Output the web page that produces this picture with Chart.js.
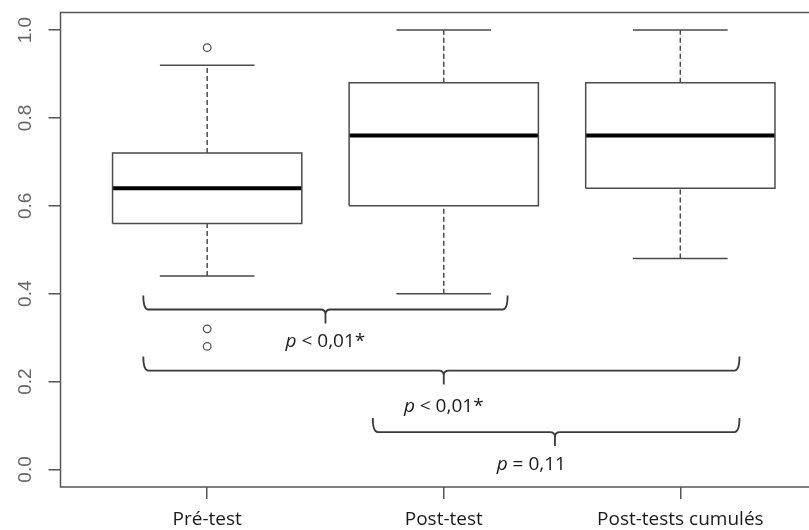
<!DOCTYPE html>
<html>
<head>
<meta charset="utf-8">
<script src="https://cdn.jsdelivr.net/npm/chart.js@4/dist/chart.umd.min.js"></script>
<style>
  html, body { margin: 0; padding: 0; background: #fff; overflow: hidden; width: 809px; height: 530px; }
  canvas { position: absolute; left: 0; top: 0; }
</style>
</head>
<body>
<canvas id="box" width="840" height="530"></canvas>
<script>
// ---------- data ----------
const groups = ["Pré-test", "Post-test", "Post-tests cumulés"];
const whiskerLow = [0.44, 0.40, 0.48];
const q1 = [0.56, 0.60, 0.64];
const median = [0.64, 0.76, 0.76];
const q3 = [0.72, 0.88, 0.88];
const whiskerHigh = [0.92, 1.00, 1.00];
const outliers = [[0.96, 0.32, 0.28], [], []];
const yTicks = [0, 0.2, 0.4, 0.6, 0.8, 1.0];

// comparison braces (x in group units, y in score units)
const braceFrom = [0.73, 0.73, 1.70];
const braceTo = [2.27, 3.25, 3.25];
const braceMid = [1.5, 2.0, 2.47];
const braceLevel = [0.364, 0.225, 0.085];
const braceText = ["< 0,01*", "< 0,01*", "= 0,11"];
const braceTextX = [1.5, 2.0, 2.37];
const braceTextY = [0.29, 0.144, 0.011];

// ---------- build line segments from the arrays ----------
const BOX_HALF = 0.4, CAP_HALF = 0.2;
const boxPts = [], medPts = [], whiskPts = [], capPts = [], outPts = [];
groups.forEach((g, i) => {
  const x = i + 1;
  boxPts.push({x: x - BOX_HALF, y: q1[i]}, {x: x + BOX_HALF, y: q1[i]},
              {x: x + BOX_HALF, y: q3[i]}, {x: x - BOX_HALF, y: q3[i]},
              {x: x - BOX_HALF, y: q1[i]}, {x: x, y: null});
  medPts.push({x: x - BOX_HALF, y: median[i]}, {x: x + BOX_HALF, y: median[i]}, {x: x, y: null});
  whiskPts.push({x: x, y: q3[i]}, {x: x, y: whiskerHigh[i]}, {x: x, y: null},
                {x: x, y: whiskerLow[i]}, {x: x, y: q1[i]}, {x: x, y: null});
  capPts.push({x: x - CAP_HALF, y: whiskerHigh[i]}, {x: x + CAP_HALF, y: whiskerHigh[i]}, {x: x, y: null},
              {x: x - CAP_HALF, y: whiskerLow[i]}, {x: x + CAP_HALF, y: whiskerLow[i]}, {x: x, y: null});
  outliers[i].forEach(v => outPts.push({x: x, y: v}));
});

const lineSet = (data, color, width, dash) => ({
  data, showLine: true, borderColor: color, borderWidth: width,
  borderDash: dash || [], pointRadius: 0, tension: 0, borderCapStyle: "butt", spanGaps: false
});

// frame + braces + p-values
const extras = {
  id: "extras",
  afterDatasetsDraw(chart) {
    const {ctx, chartArea: a, scales: {x, y}} = chart;
    ctx.save();
    ctx.strokeStyle = "#555";
    ctx.lineWidth = 1.5;
    ctx.strokeRect(a.left, a.top, a.right - a.left, a.bottom - a.top);

    ctx.strokeStyle = "#3a3a3a";
    ctx.lineWidth = 1.8;
    for (let i = 0; i < braceFrom.length; i++) {
      const x1 = x.getPixelForValue(braceFrom[i]);
      const x2 = x.getPixelForValue(braceTo[i]);
      const xm = x.getPixelForValue(braceMid[i]);
      const yl = y.getPixelForValue(braceLevel[i]);
      const yTop = yl - 14, yTip = yl + 14, r = 5;
      ctx.beginPath();
      ctx.moveTo(x1, yTop);
      ctx.quadraticCurveTo(x1, yl, x1 + r, yl);
      ctx.lineTo(xm - r, yl);
      ctx.quadraticCurveTo(xm, yl, xm, yl + r);
      ctx.lineTo(xm, yTip);
      ctx.moveTo(xm, yl + r);
      ctx.quadraticCurveTo(xm, yl, xm + r, yl);
      ctx.lineTo(x2 - r, yl);
      ctx.quadraticCurveTo(x2, yl, x2, yTop);
      ctx.stroke();

      // label: italic p + rest
      const tx = x.getPixelForValue(braceTextX[i]);
      const ty = y.getPixelForValue(braceTextY[i]);
      const it = "italic 19px 'Open Sans'", rm = "19px 'Open Sans'";
      ctx.font = it;
      const wp = ctx.measureText("p").width;
      ctx.font = rm;
      const wr = ctx.measureText(" " + braceText[i]).width;
      const sx = tx - (wp + wr) / 2;
      ctx.fillStyle = "#1a1a1a";
      ctx.textBaseline = "middle";
      ctx.textAlign = "left";
      ctx.font = it;
      ctx.fillText("p", sx, ty);
      ctx.font = rm;
      ctx.fillText(" " + braceText[i], sx + wp, ty);
    }
    ctx.restore();
  }
};

new Chart(document.getElementById("box"), {
  type: "scatter",
  data: {
    datasets: [
      lineSet(boxPts, "#4a4a4a", 1.5),
      lineSet(whiskPts, "#4a4a4a", 1.5, [5, 3]),
      lineSet(capPts, "#4a4a4a", 1.5),
      lineSet(medPts, "#000", 4),
      { data: outPts, pointRadius: 3.8, pointStyle: "circle", backgroundColor: "#fff",
        borderColor: "#555", borderWidth: 1.3 }
    ]
  },
  options: {
    responsive: false,
    animation: false,
    layout: { padding: { top: 12.5, right: 13, left: 0, bottom: 0 } },
    plugins: { legend: { display: false }, tooltip: { enabled: false } },
    scales: {
      x: {
        type: "linear", min: 0.38, max: 3.62,
        afterBuildTicks: s => { s.ticks = groups.map((g, i) => ({value: i + 1})); },
        afterFit: s => { s.height = 43; s.paddingLeft = 0; s.paddingRight = 0; },
        ticks: { callback: v => groups[v - 1], color: "#1a1a1a", padding: 9,
                 font: { family: "'Open Sans'", size: 19 }, maxRotation: 0, autoSkip: false },
        grid: { drawOnChartArea: false, drawTicks: true, tickLength: 12, color: "#555", lineWidth: 1.5 },
        border: { display: false }
      },
      y: {
        min: -0.04, max: 1.04,
        afterBuildTicks: s => { s.ticks = yTicks.map(v => ({value: v})); },
        afterFit: s => { s.width = 60.5; s.paddingTop = 0; s.paddingBottom = 0; },
        ticks: { callback: v => v.toFixed(1), color: "#666", padding: 10, crossAlign: "center",
                 minRotation: 90, maxRotation: 90,
                 font: { family: "'Liberation Sans'", size: 19 } },
        grid: { drawOnChartArea: false, drawTicks: true, tickLength: 12, color: "#555", lineWidth: 1.5 },
        border: { display: false }
      }
    }
  },
  plugins: [extras]
});
</script>
</body>
</html>
